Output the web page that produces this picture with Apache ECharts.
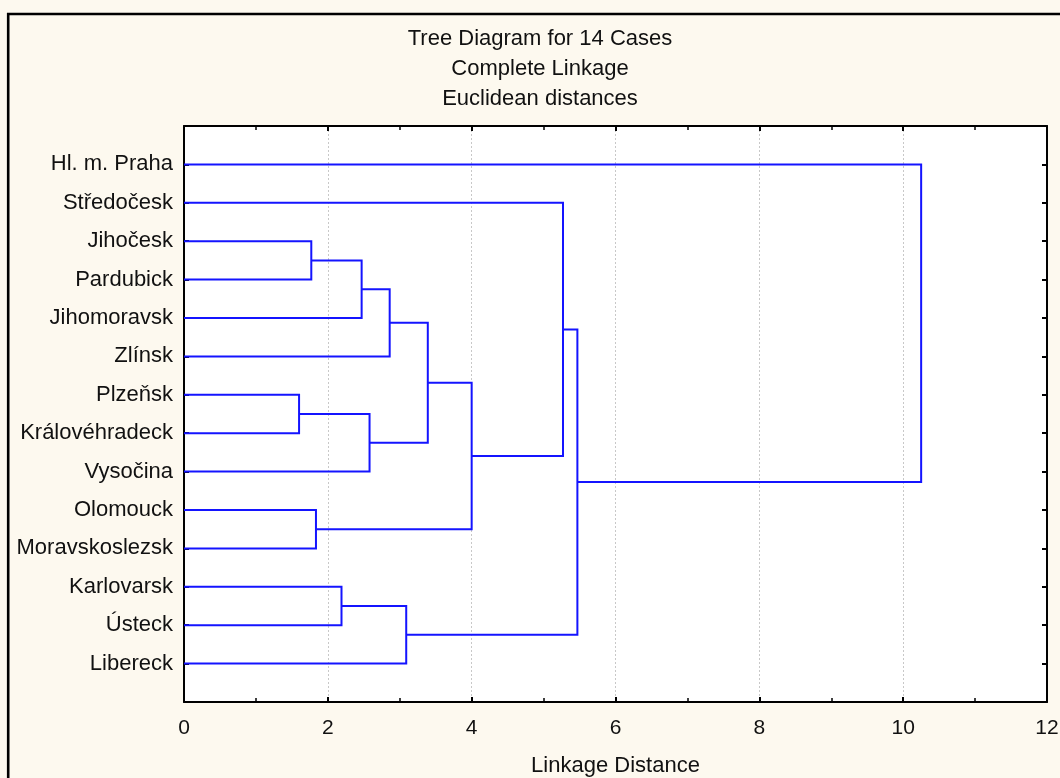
<!DOCTYPE html>
<html>
<head>
<meta charset="utf-8">
<script src="https://cdn.jsdelivr.net/npm/echarts@6/dist/echarts.min.js"></script>
<style>
    html, body { margin: 0; padding: 0; background: #fdf9ef; }
    #main { width: 1060px; height: 778px; }
</style>
</head>
<body>
<div id="main"></div>
<script type="text/javascript">
    // cases, top to bottom
    var labels = ['Hl. m. Praha', 'Středočesk', 'Jihočesk', 'Pardubick', 'Jihomoravsk', 'Zlínsk',
        'Plzeňsk', 'Královéhradeck', 'Vysočina', 'Olomouck', 'Moravskoslezsk', 'Karlovarsk', 'Ústeck', 'Libereck'];

    // joins: cases are 0..13, each join becomes cluster 14, 15, ...
    var mergeA = [2, 6, 9, 11, 14, 15, 18, 17, 20, 22, 1, 24, 0];
    var mergeB = [3, 7, 10, 12, 4, 8, 5, 13, 19, 16, 23, 21, 25];
    var mergeDist = [1.77, 1.60, 1.835, 2.19, 2.47, 2.58, 2.86, 3.09, 3.39, 4.00, 5.27, 5.47, 10.25];

    var xTicks = [0, 2, 4, 6, 8, 10, 12];

    // position and height of every node
    var nodeY = labels.map(function (l, i) { return i; });
    var nodeH = labels.map(function () { return 0; });
    var links = [];
    for (var i = 0; i < mergeA.length; i++) {
        var a = mergeA[i], b = mergeB[i];
        links.push([mergeDist[i], nodeY[a], nodeY[b], nodeH[a], nodeH[b]]);
        nodeY.push((nodeY[a] + nodeY[b]) / 2);
        nodeH.push(mergeDist[i]);
    }

    var font = "'Liberation Sans', Arial, sans-serif";
    var myChart = echarts.init(document.getElementById('main'));

    var xAxisBase = {
        type: 'value',
        min: xTicks[0],
        max: xTicks[xTicks.length - 1],
        interval: 2,
        axisLine: { onZero: false, lineStyle: { color: '#000', width: 2 } },
        axisTick: { inside: true, length: 5, lineStyle: { color: '#000', width: 2 } },
        minorTick: { show: true, splitNumber: 2, length: 4, lineStyle: { color: '#000', width: 1.5 } }
    };
    var yAxisBase = {
        type: 'value',
        inverse: true,
        min: -1,
        max: 14,
        interval: 1,
        axisLine: { onZero: false, lineStyle: { color: '#000', width: 2 } },
        axisTick: { inside: true, length: 5, lineStyle: { color: '#000', width: 2 } },
        splitLine: { show: false }
    };

    var option = {
        backgroundColor: '#fdf9ef',
        animation: false,
        title: {
            text: 'Tree Diagram for 14 Cases\nComplete Linkage\nEuclidean distances',
            left: 540,
            top: 24,
            padding: 0,
            textAlign: 'center',
            textStyle: { fontFamily: font, fontSize: 22, fontWeight: 'normal', color: '#111', lineHeight: 30 }
        },
        grid: {
            left: 184, right: 13, top: 126, bottom: 76,
            outerBoundsMode: 'none',
            containLabel: false,
            show: true, backgroundColor: '#fff', borderWidth: 0
        },
        graphic: [{
            type: 'rect',
            shape: { x: 8.2, y: 14, width: 1100, height: 900 },
            style: { fill: null, stroke: '#000', lineWidth: 2.6 },
            z: 100
        }],
        xAxis: [
            Object.assign({}, xAxisBase, {
                position: 'bottom',
                name: 'Linkage Distance',
                nameLocation: 'middle',
                nameGap: 53,
                nameTextStyle: { fontFamily: font, fontSize: 22, color: '#111' },
                axisLabel: { fontFamily: font, fontSize: 21, color: '#111', margin: 16 },
                splitLine: { show: true, lineStyle: { color: '#c8c8c8', type: [2, 2], width: 1 } }
            }),
            Object.assign({}, xAxisBase, {
                position: 'top',
                axisLabel: { show: false },
                splitLine: { show: false }
            })
        ],
        yAxis: [
            Object.assign({}, yAxisBase, {
                position: 'left',
                axisLabel: {
                    fontFamily: font, fontSize: 22, color: '#111', margin: 11,
                    formatter: function (v) { return labels[v] !== undefined ? labels[v] : ''; }
                }
            }),
            Object.assign({}, yAxisBase, {
                position: 'right',
                axisLabel: { show: false }
            })
        ],
        series: [{
            type: 'custom',
            xAxisIndex: 0,
            yAxisIndex: 0,
            data: links,
            encode: { x: 0, y: 1 },
            renderItem: function (params, api) {
                var h = api.value(0), ya = api.value(1), yb = api.value(2);
                var ha = api.value(3), hb = api.value(4);
                return {
                    type: 'polyline',
                    shape: {
                        points: [
                            api.coord([ha, ya]),
                            api.coord([h, ya]),
                            api.coord([h, yb]),
                            api.coord([hb, yb])
                        ]
                    },
                    style: { fill: null, stroke: '#1414ff', lineWidth: 2 }
                };
            }
        }]
    };

    myChart.setOption(option);
</script>
</body>
</html>
